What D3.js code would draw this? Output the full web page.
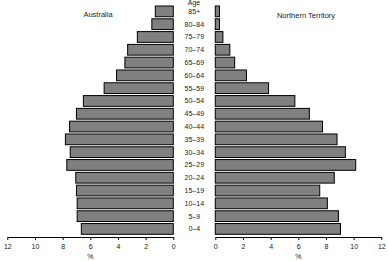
<!DOCTYPE html>
<html><head><meta charset="utf-8">
<script src="https://cdn.jsdelivr.net/npm/d3@7"></script>
<style>
html,body{margin:0;padding:0;background:#fff;}
svg{display:block;font-family:"Liberation Sans",Arial,sans-serif;}
</style></head>
<body>
<svg id="c" width="388" height="261"></svg>
<script>
const ages = ["85+","80–84","75–79","70–74","65–69","60–64","55–59","50–54","45–49","40–44","35–39","30–34","25–29","20–24","15–19","10–14","5–9","0–4"];
const australia = [1.3,1.55,2.6,3.3,3.5,4.1,5.0,6.5,7.0,7.5,7.8,7.45,7.7,7.05,7.0,6.95,6.95,6.65];
const northernTerritory = [0.3,0.3,0.55,1.05,1.4,2.25,3.85,5.75,6.8,7.75,8.8,9.4,10.15,8.6,7.55,8.1,8.9,9.05];
const ticks = [0,2,4,6,8,10,12];

const svg = d3.select("#c");
const y = d3.scaleBand().domain(ages).range([6, 234.3]).paddingInner(0.16).paddingOuter(0);
const xL = d3.scaleLinear().domain([12,0]).range([7.3,173.3]);
const xR = d3.scaleLinear().domain([0,12]).range([215.3,381.3]);

svg.append("g").selectAll("rect").data(ages).join("rect")
  .attr("x",(d,i)=>xL(australia[i]))
  .attr("y",d=>y(d))
  .attr("width",(d,i)=>xL(0)-xL(australia[i]))
  .attr("height",y.bandwidth())
  .attr("fill","#808080").attr("stroke","#000").attr("stroke-width",1);

svg.append("g").selectAll("rect").data(ages).join("rect")
  .attr("x",xR(0))
  .attr("y",d=>y(d))
  .attr("width",(d,i)=>xR(northernTerritory[i])-xR(0))
  .attr("height",y.bandwidth())
  .attr("fill","#808080").attr("stroke","#000").attr("stroke-width",1);

svg.append("g").selectAll("text").data(ages).join("text")
  .attr("x",194.3).attr("y",d=>y(d)+y.bandwidth()/2)
  .attr("dy","0.35em").attr("text-anchor","middle")
  .attr("font-size",7).attr("fill","#222").text(d=>d);

svg.append("text").attr("x",194).attr("y",5).attr("text-anchor","middle")
  .attr("font-size",7).attr("fill","#222").text("Age");

function axis(scale){
  const g = svg.append("g").attr("transform","translate(0,237)")
    .call(d3.axisBottom(scale).tickValues(ticks).tickFormat(d3.format("d")).tickSize(3).tickSizeOuter(0).tickPadding(4));
  g.select(".domain").attr("stroke","#000");
  g.selectAll(".tick line").attr("stroke","#000");
  g.selectAll("text").attr("font-size",7).attr("fill","#222").attr("font-family","Liberation Sans, Arial, sans-serif");
}
axis(xL); axis(xR);

svg.append("text").attr("x",(xL.range()[0]+xL.range()[1])/2).attr("y",259).attr("text-anchor","middle")
  .attr("font-size",7).attr("fill","#222").text("%");
svg.append("text").attr("x",(xR.range()[0]+xR.range()[1])/2).attr("y",259).attr("text-anchor","middle")
  .attr("font-size",7).attr("fill","#222").text("%");

svg.append("text").attr("x",98).attr("y",16.5).attr("text-anchor","middle")
  .attr("font-size",7.5).attr("fill","#222").text("Australia");
svg.append("text").attr("x",306).attr("y",17.5).attr("text-anchor","middle")
  .attr("font-size",7.5).attr("fill","#222").text("Northern Territory");
</script>
</body></html>
